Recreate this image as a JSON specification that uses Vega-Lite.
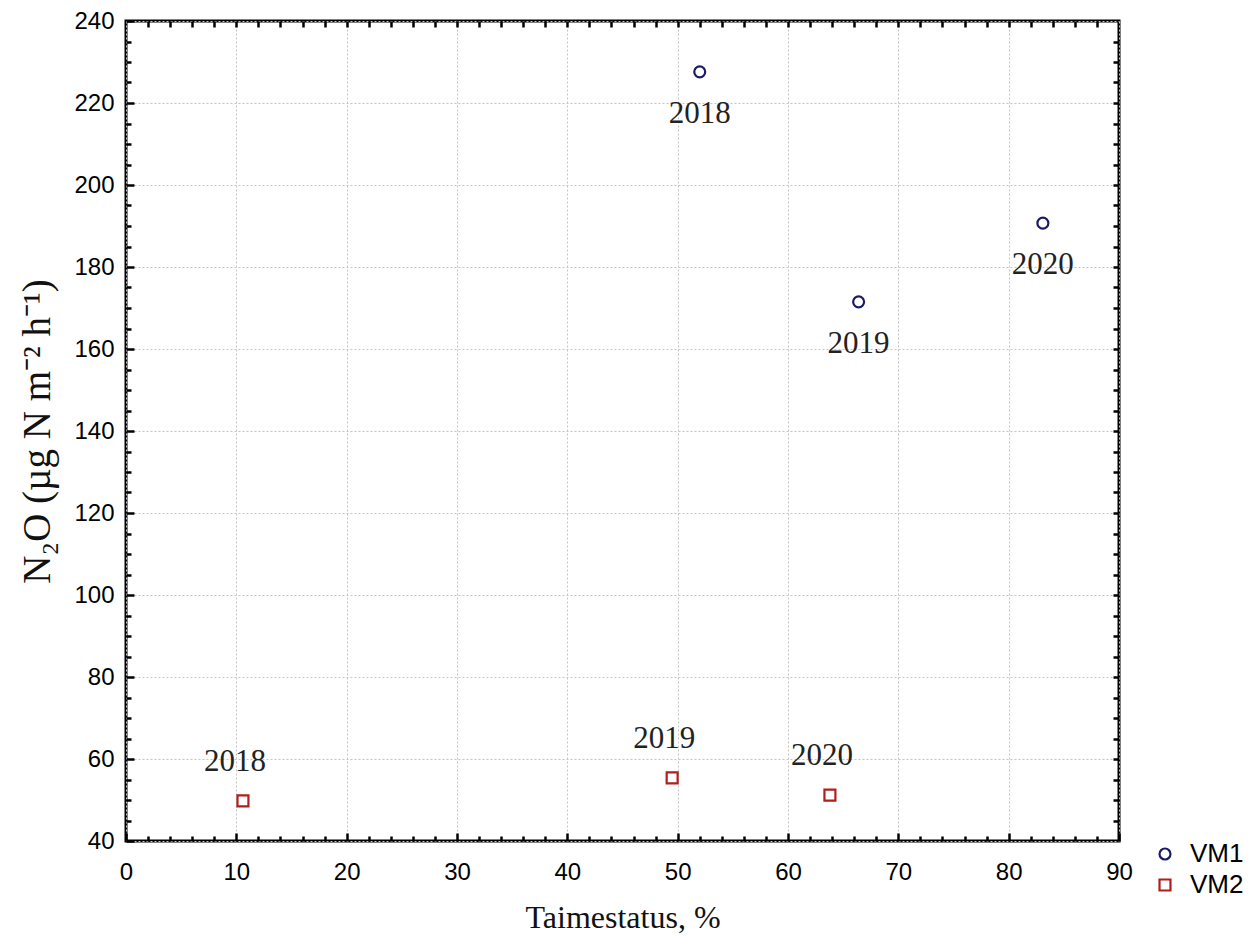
{
  "$schema": "https://vega.github.io/schema/vega-lite/v6.json",
  "autosize": "none",
  "padding": {"left": 126, "top": 21, "right": 137, "bottom": 97},
  "width": 993,
  "height": 820,
  "background": "white",
  "config": {
    "view": {"stroke": "black", "strokeWidth": 3},
    "axis": {
      "labelFont": "Liberation Sans",
      "labelFontSize": 24,
      "labelColor": "black",
      "titleFont": "Liberation Serif",
      "titleFontWeight": "normal",
      "titleColor": "#111111",
      "domain": false,
      "tickColor": "black",
      "tickWidth": 2.5,
      "gridColor": "#c4c4c4",
      "gridDash": [2, 2],
      "gridWidth": 1
    },
    "legend": {
      "labelFont": "Liberation Sans",
      "labelFontSize": 26,
      "labelColor": "black"
    }
  },
  "data": {
    "values": [
      {"series": "VM1", "year": "2018", "x": 52.0, "y": 227.6},
      {"series": "VM1", "year": "2019", "x": 66.4, "y": 171.5},
      {"series": "VM1", "year": "2020", "x": 83.1, "y": 190.7},
      {"series": "VM2", "year": "2018", "x": 10.6, "y": 49.8},
      {"series": "VM2", "year": "2019", "x": 49.5, "y": 55.4},
      {"series": "VM2", "year": "2020", "x": 63.8, "y": 51.2}
    ]
  },
  "resolve": {"axis": {"x": "independent", "y": "independent"}},
  "layer": [
    {
      "mark": {"type": "point", "filled": false, "opacity": 1, "strokeWidth": 2.2, "size": 120},
      "encoding": {
        "x": {
          "field": "x", "type": "quantitative",
          "scale": {"domain": [0, 90], "nice": false, "zero": false},
          "axis": {
            "orient": "bottom", "values": [0,10,20,30,40,50,60,70,80,90],
            "grid": true, "tickSize": -8, "labelPadding": 27, "labelFlush": false,
            "title": "Taimestatus, %", "titleFontSize": 32, "titlePadding": 18
          }
        },
        "y": {
          "field": "y", "type": "quantitative",
          "scale": {"domain": [40, 240], "nice": false, "zero": false},
          "axis": {
            "orient": "left", "values": [40,60,80,100,120,140,160,180,200,220,240],
            "grid": true, "tickSize": -8, "labelPadding": 20, "labelFlush": false,
            "title": "N₂O (µg N m⁻² h⁻¹)", "titleFontSize": 39, "titlePadding": 16
          }
        },
        "shape": {
          "field": "series", "type": "nominal",
          "scale": {"domain": ["VM1", "VM2"], "range": ["circle", "square"]},
          "legend": {"title": null, "orient": "none", "legendX": 1026, "legendY": 820, "labelOffset": 12, "rowPadding": 5, "symbolSize": 120, "symbolStrokeWidth": 2.2, "symbolOpacity": 1}
        },
        "color": {
          "field": "series", "type": "nominal",
          "scale": {"domain": ["VM1", "VM2"], "range": ["#1a1a66", "#b01e1e"]},
          "legend": {"title": null, "orient": "none", "legendX": 1026, "legendY": 820, "labelOffset": 12, "rowPadding": 5, "symbolSize": 120, "symbolStrokeWidth": 2.2, "symbolOpacity": 1}
        }
      }
    },
    {
      "transform": [{"filter": "datum.series === 'VM1'"}],
      "mark": {"type": "text", "font": "Liberation Serif", "fontSize": 31, "color": "#222222", "dy": 42, "baseline": "middle"},
      "encoding": {
        "x": {
          "field": "x", "type": "quantitative",
          "axis": {
            "orient": "bottom", "values": [2,4,6,8,12,14,16,18,22,24,26,28,32,34,36,38,42,44,46,48,52,54,56,58,62,64,66,68,72,74,76,78,82,84,86,88],
            "grid": false, "labels": false, "tickSize": -5, "title": null
          }
        },
        "y": {
          "field": "y", "type": "quantitative",
          "axis": {
            "orient": "left", "values": [45,50,55,65,70,75,85,90,95,105,110,115,125,130,135,145,150,155,165,170,175,185,190,195,205,210,215,225,230,235],
            "grid": false, "labels": false, "tickSize": -5, "title": null
          }
        },
        "text": {"field": "year"}
      }
    },
    {
      "transform": [{"filter": "datum.series === 'VM2'"}],
      "mark": {"type": "text", "font": "Liberation Serif", "fontSize": 31, "color": "#222222", "dy": -39, "dx": -8, "baseline": "middle"},
      "encoding": {
        "x": {
          "field": "x", "type": "quantitative",
          "axis": {
            "orient": "top", "values": [2,4,6,8,10,12,14,16,18,20,22,24,26,28,30,32,34,36,38,40,42,44,46,48,50,52,54,56,58,60,62,64,66,68,70,72,74,76,78,80,82,84,86,88],
            "grid": false, "labels": false, "tickSize": -6, "title": null
          }
        },
        "y": {
          "field": "y", "type": "quantitative",
          "axis": {
            "orient": "right", "values": [45,50,55,60,65,70,75,80,85,90,95,100,105,110,115,120,125,130,135,140,145,150,155,160,165,170,175,180,185,190,195,200,205,210,215,220,225,230,235],
            "grid": false, "labels": false, "tickSize": -6, "title": null
          }
        },
        "text": {"field": "year"}
      }
    }
  ]
}
